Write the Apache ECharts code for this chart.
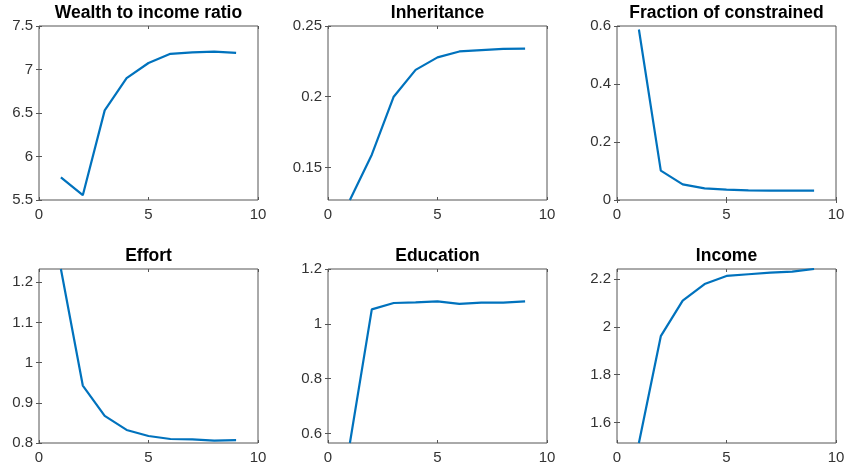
<!DOCTYPE html>
<html><head><meta charset="utf-8">
<script src="https://cdn.jsdelivr.net/npm/echarts@6/dist/echarts.min.js"></script>
<style>html,body{margin:0;padding:0;background:#fff}#c{width:848px;height:474px}</style>
</head><body><div id="c"></div>
<script>
const xValues = [1, 2, 3, 4, 5, 6, 7, 8, 9];
const titles = ['Wealth to income ratio', 'Inheritance', 'Fraction of constrained', 'Effort', 'Education', 'Income'];
const wealthToIncome = [5.76, 5.555, 6.53, 6.90, 7.075, 7.18, 7.197, 7.205, 7.19];
const inheritance = [0.127, 0.159, 0.200, 0.219, 0.2278, 0.232, 0.233, 0.2338, 0.234];
const fractionConstrained = [0.588, 0.1015, 0.054, 0.040, 0.036, 0.033, 0.032, 0.032, 0.032];
const effort = [1.233, 0.943, 0.8675, 0.8325, 0.8175, 0.810, 0.809, 0.806, 0.807];
const education = [0.565, 1.0526, 1.076, 1.078, 1.082, 1.073, 1.077, 1.077, 1.082];
const income = [1.514, 1.961, 2.110, 2.179, 2.213, 2.220, 2.227, 2.231, 2.242];
const xTicks = [0, 5, 10];
const yTicks = [
  [5.5, 6, 6.5, 7, 7.5],
  [0.15, 0.2, 0.25],
  [0, 0.2, 0.4, 0.6],
  [0.8, 0.9, 1, 1.1, 1.2],
  [0.6, 0.8, 1, 1.2],
  [1.6, 1.8, 2, 2.2]
];
const yRanges = [[5.5, 7.5], [0.127, 0.25], [0, 0.6], [0.8, 1.233], [0.565, 1.2], [1.514, 2.242]];
const seriesData = [wealthToIncome, inheritance, fractionConstrained, effort, education, income];

const lefts = [39, 328, 617];
const tops = [26, 269];
const W = 219, H = 174;
const font = '"Liberation Sans", Arial, Helvetica, sans-serif';
const axisCol = '#555';
const txtCol = '#333';

const grid = [], xAxis = [], yAxis = [], series = [], title = [];
for (let i = 0; i < 6; i++) {
  const col = i % 3, row = Math.floor(i / 3);
  grid.push({left: lefts[col], top: tops[row], width: W, height: H, show: true,
    borderColor: axisCol, borderWidth: 1, backgroundColor: '#fff', containLabel: false});
  const xBase = {type: 'value', gridIndex: i, min: 0, max: 10, interval: 5,
    axisLine: {show: false}, splitLine: {show: false},
    axisTick: {show: true, inside: true, length: 3, lineStyle: {color: axisCol}}};
  xAxis.push(Object.assign({}, xBase, {position: 'bottom',
    axisLabel: {show: true, margin: 7, color: txtCol, fontSize: 15, fontFamily: font,
      customValues: xTicks, formatter: v => String(v)}}));
  xAxis.push(Object.assign({}, xBase, {position: 'top', axisLabel: {show: false}}));
  const yBase = {type: 'value', gridIndex: i, min: yRanges[i][0], max: yRanges[i][1],
    axisLine: {show: false}, splitLine: {show: false}};
  yAxis.push(Object.assign({}, yBase, {position: 'left',
    axisTick: {show: true, inside: true, length: 3, lineStyle: {color: axisCol}, customValues: yTicks[i]},
    axisLabel: {show: true, margin: 6, color: txtCol, fontSize: 15, fontFamily: font,
      customValues: yTicks[i], formatter: v => String(+v.toFixed(4))}}));
  yAxis.push(Object.assign({}, yBase, {position: 'right',
    axisTick: {show: true, inside: true, length: 3, lineStyle: {color: axisCol}, customValues: yTicks[i]},
    axisLabel: {show: false}}));
  series.push({type: 'line', xAxisIndex: 2 * i, yAxisIndex: 2 * i, symbol: 'none', clip: true,
    lineStyle: {color: '#0072BD', width: 2.2}, itemStyle: {color: '#0072BD'},
    data: xValues.map((x, k) => [x, seriesData[i][k]])});
  title.push({text: titles[i], left: lefts[col] + W / 2, textAlign: 'center',
    top: row === 0 ? 4 : 247, padding: 0,
    textStyle: {fontSize: 17.5, fontWeight: 'bold', color: '#000', fontFamily: font}});
}

const chart = echarts.init(document.getElementById('c'), null, {renderer: 'canvas'});
chart.setOption({backgroundColor: '#fff', animation: false, title, grid, xAxis, yAxis, series});
</script></body></html>
